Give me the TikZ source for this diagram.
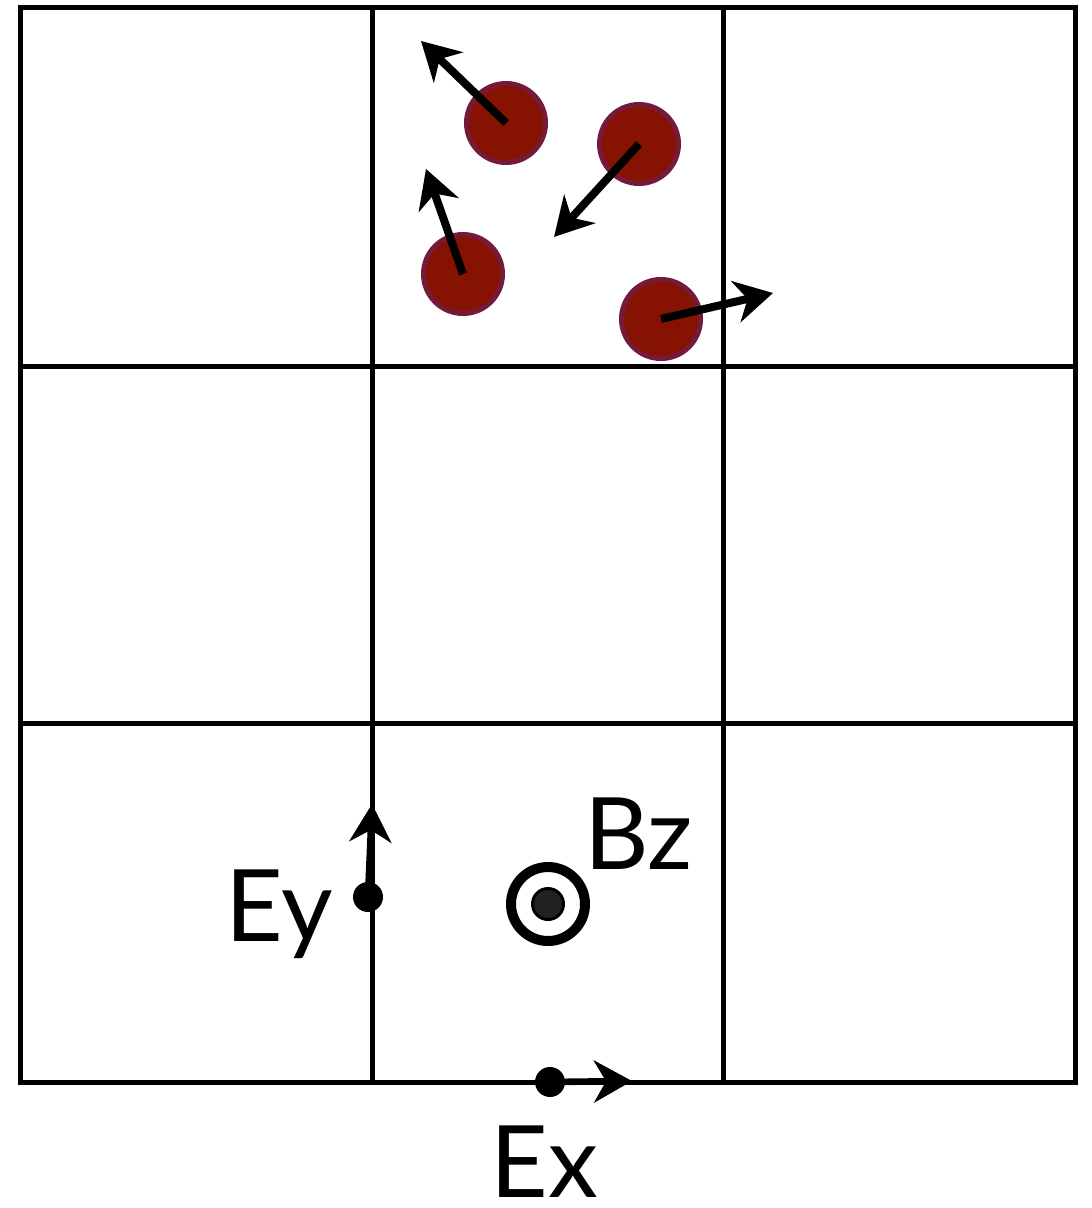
\documentclass[tikz,border=0pt]{standalone}
\usepackage{fontspec}
\setmainfont{Lato}
\usetikzlibrary{arrows.meta}
\definecolor{partred}{RGB}{134,18,2}
\definecolor{partrim}{RGB}{118,26,58}
\definecolor{dotgray}{RGB}{34,34,34}

\begin{document}
\begin{tikzpicture}[x=0.5pt, y=-0.5pt,
          >={Stealth[length=19pt, width=21pt, inset=6pt]},
          grid/.style={line width=2.5pt},
          part/.style={circle, draw=partrim, fill=partred, line width=2.5pt,
                       minimum size=39.5pt, inner sep=0pt},
          vel/.style={->, line width=4pt},
          fld/.style={->, line width=3.3pt},
          pt/.style={circle, fill=black, minimum size=15pt, inner sep=0pt},
          ring/.style={circle, draw=black, line width=5pt, minimum size=37pt, inner sep=0pt},
          core/.style={circle, draw=black, fill=dotgray, line width=1.5pt,
                       minimum size=15.5pt, inner sep=0pt},
          lbl/.style={font=\fontsize{50}{50}\selectfont, inner sep=0pt, anchor=base west}]
        \useasboundingbox (0,0) rectangle (1091,1208);
        % cells
        \draw[grid] (20,8) rectangle (1075,1082);
        \foreach \x in {372,723}
          \draw[grid] (\x,8) -- (\x,1082);
        \foreach \y in {366,723}
          \draw[grid] (20,\y) -- (1075,\y);
        % particles
        \node[part] (p1) at (506,123) {};
        \node[part] (p2) at (639,144) {};
        \node[part] (p3) at (463,274) {};
        \node[part] (p4) at (661,319) {};
        \coordinate (v1) at (421,41);
        \coordinate (v2) at (554,237);
        \coordinate (v3) at (426,169);
        \coordinate (v4) at (773,293);
        \draw[vel] (p1.center) -- (v1);
        \draw[vel] (p2.center) -- (v2);
        \draw[vel] (p3.center) -- (v3);
        \draw[vel] (p4.center) -- (v4);
        % fields
        \node[pt] (ey) at (368,897) {};
        \coordinate (eytip) at (372,804);
        \draw[fld] (ey.center) -- (eytip);
        \node[lbl] (eyl) at (225,941) {Ey};
        \node[pt] (ex) at (550,1082) {};
        \coordinate (extip) at (632,1081);
        \draw[fld] (ex.center) -- (extip);
        \node[lbl] (exl) at (490,1197) {Ex};
        \node[ring] (bz) at (548,904) {};
        \node[core] at (bz.center) {};
        \node[lbl] (bzl) at (584,869) {Bz};
      \end{tikzpicture}
\end{document}
